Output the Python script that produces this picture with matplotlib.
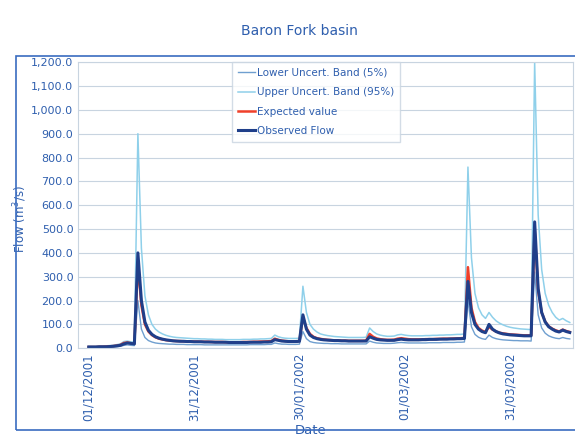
import matplotlib
matplotlib.use("Agg")
import matplotlib.pyplot as plt
import matplotlib.dates as mdates
from matplotlib.patches import Rectangle
import pandas as pd

# daily flows (m3/s) from 01/12/2001
observed = [5, 5, 5, 6, 6, 6, 7, 8, 10, 12,
            18, 22, 20, 18,
            400, 200, 110, 75, 58, 48, 42, 38, 35, 33, 31, 30,
            29, 29, 28, 28, 27, 27, 27, 26, 26, 26, 25, 25, 25, 25, 24, 24, 24, 24, 24, 24, 25, 25, 25, 25, 26, 26, 27,
            36, 33, 30, 29, 28, 28, 28, 29,
            140, 80, 55, 45, 40, 37, 35, 34, 33, 32, 32, 31, 31, 30, 30, 30, 30, 30, 30,
            48, 42, 37, 35, 34, 33, 33, 33, 36, 38, 36, 35, 35, 35, 35, 36, 36, 37, 37, 37, 38, 38, 38, 39, 39, 40, 40, 41,
            280, 150, 100, 80, 70, 65,
            100, 80, 70, 64, 60, 58, 56, 55, 54, 53, 52, 52, 52,
            530, 250, 150, 110, 90, 80, 72, 68, 76, 70, 66]

expected = [5, 5, 5, 6, 6, 7, 8, 9, 11, 14,
            22, 24, 21, 19,
            350, 180, 100, 70, 55, 46, 40, 37, 34, 32, 31, 30,
            30, 29, 29, 28, 28, 28, 27, 27, 27, 26, 26, 26, 26, 25, 25, 25, 25, 25, 26, 26, 26, 27, 27, 28, 28, 29, 30,
            40, 35, 32, 30, 29, 29, 29, 30,
            130, 85, 60, 48, 42, 39, 37, 35, 34, 33, 33, 32, 32, 31, 31, 31, 31, 31, 32,
            60, 48, 41, 38, 36, 35, 35, 36, 40, 42, 40, 38, 37, 37, 37, 37, 38, 38, 38, 39, 39, 40, 40, 40, 41, 41, 42, 43,
            340, 170, 110, 85, 74, 68,
            90, 78, 70, 65, 62, 60, 58, 57, 56, 55, 54, 54, 54,
            500, 240, 150, 112, 92, 82, 75, 70, 78, 72, 68]

upper = [8, 8, 8, 9, 9, 10, 11, 12, 15, 18,
         28, 30, 27, 25,
         900, 420, 220, 140, 100, 80, 68, 60, 54, 50, 47, 45,
         44, 43, 42, 41, 40, 40, 39, 39, 38, 38, 37, 37, 37, 36, 36, 36, 36, 36, 37, 37, 37, 38, 38, 39, 39, 40, 41,
         55, 48, 44, 42, 41, 41, 41, 42,
         260, 150, 100, 80, 68, 60, 56, 53, 51, 49, 48, 47, 46, 45, 45, 45, 45, 45, 46,
         85, 70, 60, 55, 52, 50, 50, 51, 56, 58, 55, 53, 52, 52, 52, 52, 53, 53, 54, 54, 55, 55, 56, 56, 57, 58, 58, 60,
         760, 380, 230, 170, 140, 125,
         150, 130, 115, 105, 98, 92, 88, 85, 83, 81, 80, 79, 78,
         1200, 560, 330, 230, 180, 150, 130, 118, 125, 115, 108]

lower = [3, 3, 3, 4, 4, 4, 5, 5, 6, 8,
         12, 14, 12, 11,
         200, 80, 45, 32, 26, 22, 20, 19, 18, 17, 17, 16,
         16, 16, 15, 15, 15, 15, 15, 14, 14, 14, 14, 14, 14, 14, 14, 14, 14, 14, 14, 14, 15, 15, 15, 15, 15, 16, 16,
         22, 19, 17, 17, 16, 16, 16, 17,
         70, 40, 28, 24, 22, 21, 20, 20, 19, 19, 19, 18, 18, 18, 18, 18, 18, 18, 18,
         30, 25, 22, 21, 20, 20, 20, 21, 23, 24, 23, 22, 22, 22, 22, 22, 22, 23, 23, 23, 23, 24, 24, 24, 24, 25, 25, 26,
         200, 90, 58, 46, 40, 37,
         55, 45, 40, 37, 35, 34, 33, 32, 32, 31, 31, 31, 30,
         320, 140, 85, 63, 52, 46, 42, 40, 45, 41, 39]

tick_dates = ["2001-12-01", "2001-12-31", "2002-01-30", "2002-03-01", "2002-03-31"]

dates = pd.date_range("2001-12-01", periods=len(observed), freq="D")
txt = "#2f5fae"

fig = plt.figure(figsize=(5.75, 4.38), dpi=100)
ax = fig.add_axes([0.136, 0.205, 0.861, 0.653])

ax.plot(dates, lower, color="#6f9fd0", lw=1.0, label="Lower Uncert. Band (5%)")
ax.plot(dates, upper, color="#8fd0ea", lw=1.1, label="Upper Uncert. Band (95%)")
ax.plot(dates, expected, color="#f0402a", lw=1.8, label="Expected value")
ax.plot(dates, observed, color="#1f3f8a", lw=2.2, label="Observed Flow")

ax.set_ylim(0, 1200)
ax.set_yticks(range(0, 1201, 100))
ax.set_yticklabels([f"{v:,.1f}" for v in range(0, 1201, 100)])
ax.set_xlim(pd.Timestamp("2001-11-28"), pd.Timestamp("2002-04-18"))
ax.set_xticks(pd.to_datetime(tick_dates))
ax.xaxis.set_major_formatter(mdates.DateFormatter("%d/%m/%Y"))
plt.setp(ax.get_xticklabels(), rotation=90)

ax.tick_params(axis="both", colors=txt, labelsize=8, length=0)
ax.tick_params(axis="x", labelsize=8.5)
ax.grid(axis="y", color="#c8d4e0", lw=0.8)
for s in ax.spines.values():
    s.set_color("#c8d4e0")

ax.set_ylabel("Flow (m$^3$/s)", color=txt, fontsize=8.5)
ax.yaxis.set_label_coords(-0.1, 0.45)
ax.set_xlabel("Date", color=txt, fontsize=9.5)
ax.xaxis.set_label_coords(0.47, -0.265)

leg = ax.legend(loc="upper left", bbox_to_anchor=(0.3, 1.02), fontsize=7.5,
                handlelength=1.6, handletextpad=0.2, labelspacing=0.9,
                frameon=True, fancybox=False, borderpad=0.6)
leg.get_frame().set_edgecolor("#c8d4e0")
for t in leg.get_texts():
    t.set_color(txt)

fig.text(0.52, 0.92, "Baron Fork basin", color=txt, fontsize=10, ha="center")
fig.patches.append(Rectangle((0.028, 0.018), 0.975, 0.855, transform=fig.transFigure,
                             fill=False, edgecolor="#3a6cc0", lw=1.2))

fig.savefig("out.png", dpi=100)
